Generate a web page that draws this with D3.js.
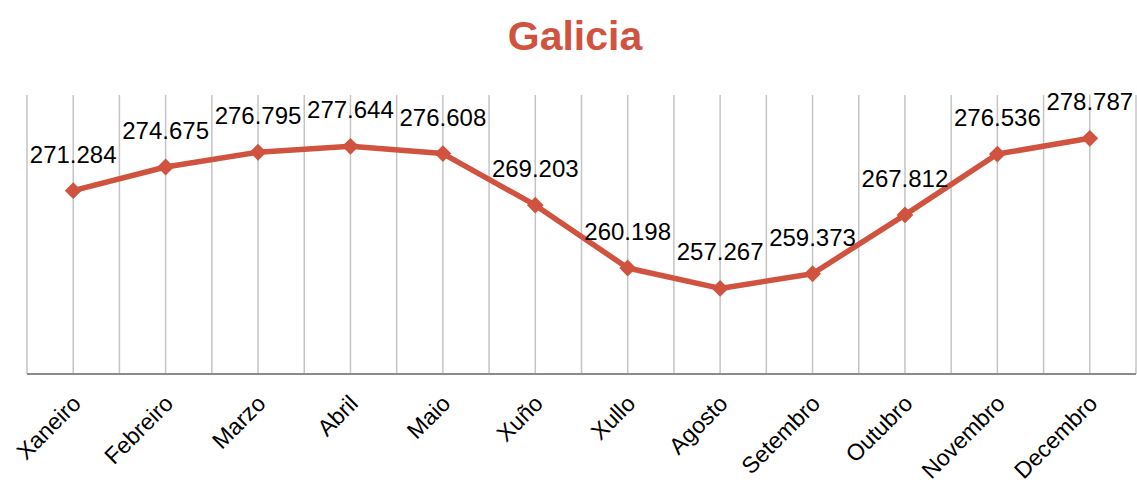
<!DOCTYPE html>
<html>
<head>
<meta charset="utf-8">
<script src="https://cdn.jsdelivr.net/npm/d3@7/dist/d3.min.js"></script>
<style>
  body { margin: 0; background: #fff; }
  svg { display: block; font-family: "Liberation Sans", Arial, sans-serif; }
</style>
</head>
<body>
<div id="chart"></div>
<script>
  var months = ["Xaneiro", "Febreiro", "Marzo", "Abril", "Maio", "Xuño",
                "Xullo", "Agosto", "Setembro", "Outubro", "Novembro", "Decembro"];
  var values = [271.284, 274.675, 276.795, 277.644, 276.608, 269.203,
                260.198, 257.267, 259.373, 267.812, 276.536, 278.787];
  var yDomain = [245, 285];

  var width = 1137, height = 486;
  var margin = {top: 95, right: 1, bottom: 112, left: 27};
  var red = "#d0533f";

  var svg = d3.select("#chart").append("svg")
      .attr("width", width)
      .attr("height", height);

  var plotW = width - margin.left - margin.right,
      plotH = height - margin.top - margin.bottom;

  var g = svg.append("g")
      .attr("transform", "translate(" + margin.left + "," + margin.top + ")");

  var x = d3.scaleBand().domain(months).range([0, plotW]);
  var y = d3.scaleLinear().domain(yDomain).range([plotH, 0]);

  // vertical gridlines at both band edges and band centres
  var gridX = [];
  months.forEach(function(m) {
    gridX.push(x(m));
    gridX.push(x(m) + x.bandwidth() / 2);
  });
  gridX.push(plotW);

  g.selectAll(".grid")
      .data(gridX)
      .enter().append("line")
      .attr("class", "grid")
      .attr("x1", d => d).attr("x2", d => d)
      .attr("y1", 0).attr("y2", plotH)
      .attr("stroke", "#c4c4c4")
      .attr("stroke-width", 1.5);

  // x axis line
  g.append("line")
      .attr("x1", 0).attr("x2", plotW)
      .attr("y1", plotH).attr("y2", plotH)
      .attr("stroke", "#8c8c8c")
      .attr("stroke-width", 2);

  var cx = d => x(d) + x.bandwidth() / 2;

  // category labels
  g.selectAll(".xlabel")
      .data(months)
      .enter().append("text")
      .attr("class", "xlabel")
      .attr("transform", d => "translate(" + (cx(d) + 9) + "," + (plotH + 31) + ")rotate(-45)")
      .attr("text-anchor", "end")
      .attr("font-size", 23)
      .attr("fill", "#000")
      .text(d => d);

  var line = d3.line()
      .x((d, i) => cx(months[i]))
      .y(d => y(d));

  g.append("path")
      .datum(values)
      .attr("d", line)
      .attr("fill", "none")
      .attr("stroke", red)
      .attr("stroke-width", 5.5)
      .attr("stroke-linejoin", "round");

  var diamond = d3.symbol().type(d3.symbolDiamond2).size(180);

  g.selectAll(".marker")
      .data(values)
      .enter().append("path")
      .attr("class", "marker")
      .attr("d", diamond)
      .attr("transform", (d, i) => "translate(" + cx(months[i]) + "," + y(d) + ")")
      .attr("fill", red);

  g.selectAll(".vlabel")
      .data(values)
      .enter().append("text")
      .attr("class", "vlabel")
      .attr("x", (d, i) => cx(months[i]))
      .attr("y", d => y(d) - 28)
      .attr("text-anchor", "middle")
      .attr("font-size", 24)
      .attr("fill", "#000")
      .text(d => d.toFixed(3));

  svg.append("text")
      .attr("x", 575)
      .attr("y", 50)
      .attr("text-anchor", "middle")
      .attr("font-size", 41)
      .attr("font-weight", "bold")
      .attr("fill", red)
      .text("Galicia");
</script>
</body>
</html>
